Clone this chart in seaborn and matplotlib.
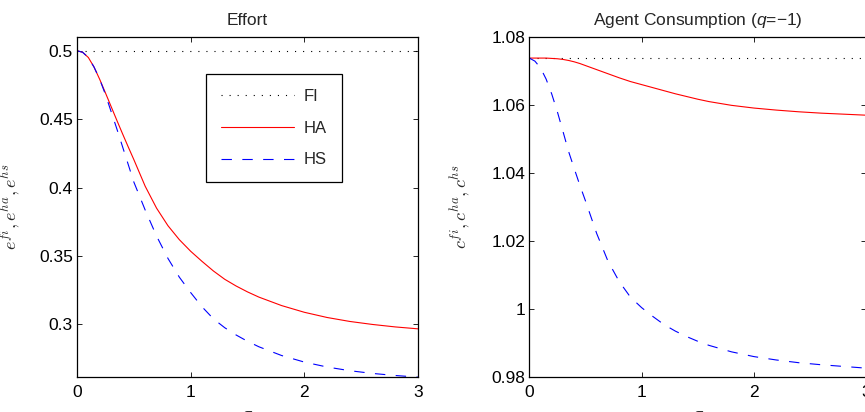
import matplotlib
matplotlib.use('Agg')
import matplotlib.pyplot as plt
from matplotlib.ticker import FuncFormatter
import seaborn as sns

# values
sigma = [0, 0.05, 0.1, 0.15, 0.2, 0.25, 0.3, 0.35, 0.4, 0.45, 0.5,
         0.6, 0.7, 0.8, 0.9, 1.0, 1.1, 1.2, 1.3, 1.4, 1.5, 1.6,
         1.8, 2.0, 2.2, 2.4, 2.6, 2.8, 3.0]

effort_fi = 0.5
effort_ha = [0.5, 0.4988, 0.4950, 0.4880, 0.4790, 0.4692, 0.4592, 0.4492, 0.4394, 0.4298, 0.4204,
             0.4009, 0.3849, 0.3721, 0.3619, 0.3534, 0.3460, 0.3390, 0.3329, 0.3280, 0.3237, 0.3199,
             0.3137, 0.3088, 0.3050, 0.3021, 0.2999, 0.2981, 0.2967]
effort_hs = [0.5, 0.4988, 0.4950, 0.4880, 0.4790, 0.4680, 0.4555, 0.4430, 0.4300, 0.4170, 0.4040,
             0.3835, 0.3645, 0.3482, 0.3345, 0.3232, 0.3128, 0.3040, 0.2975, 0.2922, 0.2876, 0.2836,
             0.2772, 0.2724, 0.2688, 0.2661, 0.2641, 0.2626, 0.2614]

cons_fi = 1.0738
cons_ha = [1.0738, 1.0738, 1.0738, 1.0738, 1.0737, 1.0736, 1.0734, 1.0731, 1.0727, 1.0722, 1.0716,
           1.0704, 1.0692, 1.0680, 1.0669, 1.0660, 1.0651, 1.0642, 1.0633, 1.0625, 1.0617, 1.0610,
           1.0599, 1.0591, 1.0585, 1.0580, 1.0576, 1.0573, 1.0570]
cons_hs = [1.0738, 1.0729, 1.0709, 1.0676, 1.0632, 1.0580, 1.0522, 1.0463, 1.0413, 1.0364, 1.0318,
           1.0222, 1.0141, 1.0081, 1.0035, 1.0004, 0.9978, 0.9954, 0.9935, 0.9919, 0.9905, 0.9893,
           0.9874, 0.9860, 0.9850, 0.9842, 0.9836, 0.9831, 0.9826]

x_ticks = [0, 1, 2, 3]
effort_yticks = [0.3, 0.35, 0.4, 0.45, 0.5]
cons_yticks = [0.98, 1.0, 1.02, 1.04, 1.06, 1.08]

sns.set_theme(style='ticks')
plt.rcParams['font.family'] = ['Liberation Sans', 'DejaVu Sans']
plt.rcParams.update({
    'mathtext.fontset': 'custom',
    'mathtext.rm': 'Liberation Sans',
    'mathtext.it': 'Liberation Sans:italic',
    'lines.scale_dashes': False,
    'axes.edgecolor': 'black',
    'axes.linewidth': 0.9,
    'xtick.direction': 'in',
    'ytick.direction': 'in',
    'xtick.top': True,
    'ytick.right': True,
    'xtick.major.size': 3.5,
    'ytick.major.size': 3.5,
    'xtick.major.width': 0.6,
    'ytick.major.width': 0.6,
    'xtick.color': 'black',
    'ytick.color': 'black',
    'xtick.labelsize': 12.5,
    'ytick.labelsize': 12.5,
    'xtick.major.pad': 6,
    'ytick.major.pad': 3,
})

fig = plt.figure(figsize=(8.65, 4.12), dpi=100)
ax1 = fig.add_axes([77 / 865, 35 / 412, 341 / 865, 340 / 412])
ax2 = fig.add_axes([529.3 / 865, 35 / 412, 337 / 865, 340 / 412])

dotted = (0, (0.8, 5))
dashed = (0, (7.5, 7.5))


def draw(ax, fi, ha, hs, labels):
    sns.lineplot(x=sigma, y=[fi] * len(sigma), ax=ax, color='black', lw=0.8,
                 linestyle=dotted, label='FI' if labels else None)
    sns.lineplot(x=sigma, y=ha, ax=ax, color='#ff0000', lw=0.8,
                 label='HA' if labels else None)
    sns.lineplot(x=sigma, y=hs, ax=ax, color='#0000ff', lw=0.8,
                 linestyle=dashed, label='HS' if labels else None)
    ax.set_xlim(0, 3)
    ax.set_xticks(x_ticks)
    ax.yaxis.set_major_formatter(FuncFormatter(lambda v, p: '%g' % round(v, 4)))
    ax.set_xlabel(r'$\sigma$', fontsize=13, math_fontfamily='cm')
    ax.xaxis.set_label_coords(0.5, -0.085)
    if ax.get_legend() is not None:
        ax.get_legend().remove()


draw(ax1, effort_fi, effort_ha, effort_hs, True)
ax1.set_ylim(0.2615, 0.51)
ax1.set_yticks(effort_yticks)
ax1.set_title('Effort', fontsize=12.5, pad=9)
ax1.set_ylabel(r'$e^{fi}, e^{ha}, e^{hs}$', fontsize=13, math_fontfamily='cm')
ax1.yaxis.set_label_coords(-0.158, 0.5)

leg = ax1.legend(loc='upper left', bbox_to_anchor=(0.378, 0.891), borderaxespad=0,
                 fontsize=12, handlelength=4.4, handletextpad=0.55, labelspacing=1.0,
                 borderpad=0.9, fancybox=False, framealpha=1, edgecolor='black')
leg.get_frame().set_linewidth(0.9)

draw(ax2, cons_fi, cons_ha, cons_hs, False)
ax2.set_ylim(0.98, 1.08)
ax2.set_yticks(cons_yticks)
ax2.set_title('Agent Consumption ($q$=\u22121)', fontsize=12.5, pad=9)
ax2.set_ylabel(r'$c^{fi}, c^{ha}, c^{hs}$', fontsize=13, math_fontfamily='cm')
ax2.yaxis.set_label_coords(-0.167, 0.5)

fig.savefig('out.png', dpi=100)
